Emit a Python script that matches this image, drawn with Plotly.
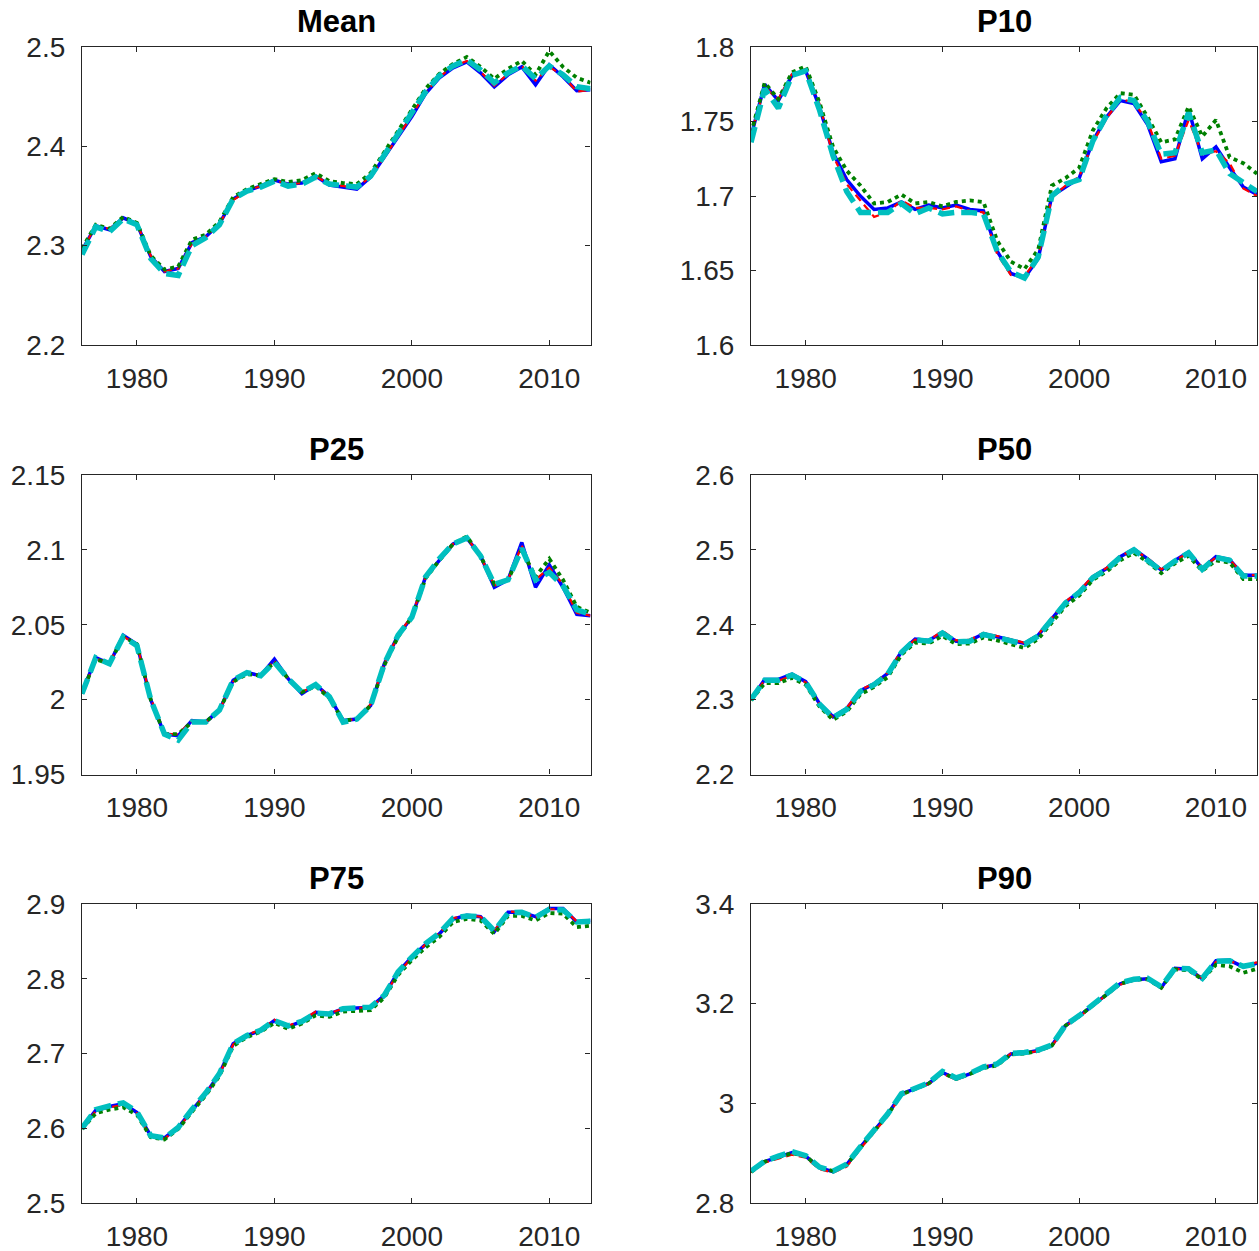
import plotly.graph_objects as go

years = list(range(1976, 2014))

# ---------------- data ----------------
mean_blue = [2.295, 2.320, 2.316, 2.328, 2.322, 2.289, 2.274, 2.277, 2.303, 2.309, 2.322, 2.347, 2.355, 2.360, 2.366, 2.362, 2.363, 2.370, 2.361, 2.359, 2.357, 2.369, 2.389, 2.410, 2.430, 2.453, 2.469, 2.479, 2.485, 2.474, 2.460, 2.472, 2.480, 2.462, 2.482, 2.470, 2.456, 2.457]
mean_red = [2.295, 2.320, 2.317, 2.328, 2.322, 2.290, 2.274, 2.277, 2.302, 2.309, 2.322, 2.346, 2.355, 2.360, 2.366, 2.362, 2.363, 2.370, 2.362, 2.360, 2.358, 2.370, 2.389, 2.410, 2.431, 2.454, 2.470, 2.480, 2.486, 2.475, 2.461, 2.473, 2.481, 2.466, 2.480, 2.471, 2.455, 2.457]
mean_green = [2.297, 2.321, 2.317, 2.329, 2.323, 2.290, 2.276, 2.279, 2.306, 2.311, 2.324, 2.349, 2.357, 2.362, 2.367, 2.364, 2.366, 2.373, 2.365, 2.363, 2.362, 2.373, 2.394, 2.416, 2.436, 2.458, 2.473, 2.483, 2.490, 2.480, 2.468, 2.478, 2.486, 2.472, 2.496, 2.480, 2.469, 2.464]
mean_cyan = [2.291, 2.319, 2.314, 2.327, 2.321, 2.287, 2.272, 2.270, 2.300, 2.308, 2.321, 2.347, 2.355, 2.359, 2.365, 2.360, 2.362, 2.369, 2.362, 2.360, 2.359, 2.370, 2.391, 2.412, 2.432, 2.455, 2.471, 2.481, 2.487, 2.477, 2.464, 2.474, 2.481, 2.468, 2.481, 2.472, 2.460, 2.458]

p10_blue = [1.740, 1.775, 1.764, 1.781, 1.784, 1.760, 1.729, 1.711, 1.700, 1.691, 1.692, 1.696, 1.691, 1.694, 1.692, 1.694, 1.691, 1.690, 1.663, 1.648, 1.645, 1.658, 1.700, 1.706, 1.712, 1.737, 1.753, 1.764, 1.762, 1.748, 1.723, 1.725, 1.758, 1.725, 1.733, 1.719, 1.706, 1.701]
p10_red = [1.741, 1.773, 1.765, 1.782, 1.785, 1.762, 1.727, 1.708, 1.697, 1.686, 1.689, 1.697, 1.692, 1.692, 1.691, 1.693, 1.690, 1.689, 1.661, 1.647, 1.646, 1.659, 1.699, 1.707, 1.713, 1.736, 1.752, 1.765, 1.763, 1.750, 1.725, 1.727, 1.751, 1.728, 1.730, 1.722, 1.705, 1.700]
p10_green = [1.742, 1.776, 1.765, 1.783, 1.787, 1.763, 1.733, 1.717, 1.707, 1.695, 1.696, 1.701, 1.695, 1.696, 1.693, 1.696, 1.697, 1.696, 1.670, 1.656, 1.651, 1.664, 1.707, 1.712, 1.719, 1.744, 1.759, 1.769, 1.768, 1.753, 1.736, 1.738, 1.760, 1.740, 1.751, 1.726, 1.722, 1.715]
p10_cyan = [1.736, 1.772, 1.759, 1.781, 1.784, 1.758, 1.727, 1.703, 1.689, 1.689, 1.689, 1.695, 1.688, 1.692, 1.688, 1.689, 1.689, 1.688, 1.663, 1.649, 1.645, 1.659, 1.700, 1.708, 1.711, 1.737, 1.754, 1.766, 1.764, 1.750, 1.728, 1.729, 1.756, 1.729, 1.731, 1.715, 1.709, 1.703]

p25_blue = [2.004, 2.028, 2.024, 2.043, 2.037, 2.000, 1.977, 1.976, 1.986, 1.985, 1.993, 2.013, 2.018, 2.016, 2.027, 2.014, 2.004, 2.010, 2.002, 1.986, 1.987, 1.996, 2.024, 2.043, 2.055, 2.082, 2.093, 2.104, 2.108, 2.096, 2.075, 2.080, 2.105, 2.075, 2.090, 2.075, 2.057, 2.056]
p25_red = [2.004, 2.027, 2.025, 2.042, 2.037, 2.001, 1.977, 1.977, 1.986, 1.985, 1.993, 2.012, 2.018, 2.016, 2.026, 2.014, 2.005, 2.010, 2.002, 1.986, 1.987, 1.997, 2.024, 2.043, 2.056, 2.082, 2.093, 2.104, 2.108, 2.096, 2.076, 2.080, 2.103, 2.080, 2.088, 2.077, 2.058, 2.056]
p25_green = [2.004, 2.027, 2.024, 2.042, 2.037, 2.000, 1.977, 1.977, 1.985, 1.985, 1.993, 2.012, 2.017, 2.016, 2.025, 2.014, 2.005, 2.009, 2.001, 1.986, 1.987, 1.996, 2.023, 2.042, 2.055, 2.081, 2.093, 2.104, 2.109, 2.096, 2.077, 2.080, 2.100, 2.082, 2.094, 2.080, 2.062, 2.058]
p25_cyan = [2.004, 2.028, 2.024, 2.042, 2.036, 2.000, 1.977, 1.973, 1.985, 1.985, 1.993, 2.013, 2.018, 2.016, 2.025, 2.014, 2.005, 2.010, 2.002, 1.985, 1.987, 1.996, 2.024, 2.043, 2.055, 2.082, 2.094, 2.104, 2.108, 2.096, 2.077, 2.080, 2.101, 2.080, 2.085, 2.076, 2.060, 2.057]

p50_blue = [2.300, 2.327, 2.327, 2.334, 2.324, 2.295, 2.277, 2.288, 2.312, 2.321, 2.335, 2.364, 2.381, 2.379, 2.390, 2.378, 2.379, 2.388, 2.384, 2.379, 2.375, 2.386, 2.408, 2.430, 2.444, 2.464, 2.475, 2.491, 2.501, 2.488, 2.473, 2.486, 2.497, 2.475, 2.491, 2.487, 2.466, 2.466]
p50_red = [2.300, 2.326, 2.325, 2.332, 2.323, 2.294, 2.276, 2.289, 2.313, 2.322, 2.336, 2.365, 2.380, 2.379, 2.392, 2.379, 2.380, 2.389, 2.385, 2.381, 2.376, 2.387, 2.409, 2.431, 2.445, 2.465, 2.476, 2.492, 2.500, 2.489, 2.474, 2.486, 2.496, 2.476, 2.490, 2.487, 2.467, 2.466]
p50_green = [2.299, 2.322, 2.322, 2.329, 2.320, 2.291, 2.273, 2.284, 2.307, 2.317, 2.330, 2.360, 2.376, 2.375, 2.385, 2.374, 2.375, 2.383, 2.379, 2.374, 2.369, 2.381, 2.403, 2.425, 2.439, 2.460, 2.471, 2.486, 2.496, 2.484, 2.469, 2.482, 2.492, 2.472, 2.486, 2.483, 2.461, 2.461]
p50_cyan = [2.300, 2.326, 2.326, 2.333, 2.323, 2.294, 2.276, 2.287, 2.311, 2.320, 2.334, 2.363, 2.380, 2.378, 2.389, 2.377, 2.378, 2.387, 2.383, 2.378, 2.374, 2.385, 2.407, 2.429, 2.443, 2.463, 2.474, 2.490, 2.500, 2.487, 2.472, 2.485, 2.496, 2.474, 2.490, 2.486, 2.465, 2.465]

p75_blue = [2.600, 2.624, 2.629, 2.633, 2.621, 2.590, 2.587, 2.601, 2.624, 2.646, 2.673, 2.713, 2.724, 2.731, 2.744, 2.736, 2.743, 2.755, 2.753, 2.760, 2.761, 2.762, 2.778, 2.809, 2.829, 2.846, 2.860, 2.880, 2.885, 2.883, 2.863, 2.889, 2.889, 2.883, 2.894, 2.894, 2.876, 2.878]
p75_red = [2.600, 2.623, 2.628, 2.631, 2.620, 2.589, 2.586, 2.600, 2.623, 2.646, 2.672, 2.712, 2.725, 2.732, 2.745, 2.737, 2.744, 2.756, 2.754, 2.760, 2.761, 2.762, 2.777, 2.808, 2.828, 2.846, 2.861, 2.881, 2.885, 2.883, 2.864, 2.890, 2.889, 2.882, 2.893, 2.893, 2.877, 2.878]
p75_green = [2.599, 2.620, 2.625, 2.628, 2.618, 2.588, 2.585, 2.599, 2.622, 2.644, 2.670, 2.710, 2.722, 2.729, 2.741, 2.733, 2.740, 2.751, 2.749, 2.756, 2.757, 2.758, 2.775, 2.805, 2.825, 2.842, 2.856, 2.876, 2.880, 2.878, 2.860, 2.884, 2.884, 2.878, 2.888, 2.887, 2.869, 2.871]
p75_cyan = [2.600, 2.625, 2.630, 2.634, 2.622, 2.590, 2.587, 2.601, 2.625, 2.647, 2.673, 2.713, 2.724, 2.731, 2.744, 2.737, 2.743, 2.754, 2.753, 2.760, 2.761, 2.762, 2.778, 2.809, 2.829, 2.847, 2.861, 2.881, 2.884, 2.883, 2.864, 2.888, 2.889, 2.882, 2.893, 2.892, 2.876, 2.877]

p90_blue = [2.863, 2.883, 2.892, 2.901, 2.894, 2.871, 2.863, 2.877, 2.912, 2.945, 2.978, 3.019, 3.029, 3.040, 3.062, 3.049, 3.059, 3.072, 3.078, 3.099, 3.101, 3.106, 3.116, 3.156, 3.175, 3.197, 3.220, 3.240, 3.248, 3.250, 3.232, 3.271, 3.269, 3.250, 3.286, 3.287, 3.274, 3.281]
p90_red = [2.862, 2.881, 2.889, 2.897, 2.891, 2.868, 2.861, 2.873, 2.909, 2.942, 2.975, 3.017, 3.028, 3.039, 3.060, 3.047, 3.058, 3.074, 3.079, 3.100, 3.100, 3.105, 3.114, 3.155, 3.173, 3.195, 3.218, 3.238, 3.247, 3.249, 3.231, 3.270, 3.268, 3.251, 3.284, 3.285, 3.277, 3.283]
p90_green = [2.862, 2.883, 2.892, 2.900, 2.894, 2.871, 2.864, 2.877, 2.911, 2.944, 2.977, 3.018, 3.029, 3.040, 3.061, 3.049, 3.059, 3.071, 3.076, 3.098, 3.100, 3.105, 3.116, 3.156, 3.175, 3.197, 3.220, 3.240, 3.248, 3.249, 3.232, 3.269, 3.267, 3.249, 3.278, 3.275, 3.262, 3.270]
p90_cyan = [2.864, 2.884, 2.894, 2.903, 2.895, 2.872, 2.864, 2.878, 2.913, 2.946, 2.979, 3.019, 3.030, 3.041, 3.064, 3.051, 3.060, 3.073, 3.079, 3.100, 3.102, 3.107, 3.117, 3.157, 3.176, 3.198, 3.221, 3.242, 3.249, 3.251, 3.234, 3.271, 3.270, 3.251, 3.285, 3.286, 3.275, 3.280]

panel_titles = ["Mean", "P10", "P25", "P50", "P75", "P90"]
panel_series = [
    (mean_blue, mean_red, mean_green, mean_cyan),
    (p10_blue, p10_red, p10_green, p10_cyan),
    (p25_blue, p25_red, p25_green, p25_cyan),
    (p50_blue, p50_red, p50_green, p50_cyan),
    (p75_blue, p75_red, p75_green, p75_cyan),
    (p90_blue, p90_red, p90_green, p90_cyan),
]
y_ranges = [[2.2, 2.5], [1.6, 1.8], [1.95, 2.15], [2.2, 2.6], [2.5, 2.9], [2.8, 3.4]]
y_ticks = [
    [2.2, 2.3, 2.4, 2.5],
    [1.6, 1.65, 1.7, 1.75, 1.8],
    [1.95, 2.0, 2.05, 2.1, 2.15],
    [2.2, 2.3, 2.4, 2.5, 2.6],
    [2.5, 2.6, 2.7, 2.8, 2.9],
    [2.8, 3.0, 3.2, 3.4],
]
y_ticktext = [
    ["2.2", "2.3", "2.4", "2.5"],
    ["1.6", "1.65", "1.7", "1.75", "1.8"],
    ["1.95", "2", "2.05", "2.1", "2.15"],
    ["2.2", "2.3", "2.4", "2.5", "2.6"],
    ["2.5", "2.6", "2.7", "2.8", "2.9"],
    ["2.8", "3", "3.2", "3.4"],
]
x_ticks = [1980, 1990, 2000, 2010]
x_ticktext = ["1980", "1990", "2000", "2010"]

# ---------------- layout geometry ----------------
W, H = 1259, 1251
col_px = [(82, 590.5), (751, 1257)]
row_px = [(47, 345), (475, 774.5), (904, 1203)]

styles = [
    dict(color="#0000FF", width=3.5, dash="solid"),
    dict(color="#FF0000", width=2.2, dash="8px,5px"),
    dict(color="#008000", width=3.8, dash="4px,4px"),
    dict(color="#00BFBF", width=5.5, dash="16px,7px"),
]

fig = go.Figure()
axis_color = "#262626"
font_family = "Liberation Sans, Arial, Helvetica, sans-serif"

annotations = []
for i in range(6):
    r, c = divmod(i, 2)
    n = i + 1
    xa = "x" if n == 1 else f"x{n}"
    ya = "y" if n == 1 else f"y{n}"
    for data, st in zip(panel_series[i], styles):
        fig.add_trace(go.Scatter(x=years, y=data, mode="lines", xaxis=xa, yaxis=ya,
                                 line=st, showlegend=False, hoverinfo="skip"))
    x0, x1 = col_px[c]
    top, bot = row_px[r]
    xdom = [x0 / W, x1 / W]
    ydom = [1 - bot / H, 1 - top / H]
    common = dict(showline=True, linecolor=axis_color, linewidth=1.2, mirror="ticks",
                  ticks="inside", ticklen=5, tickwidth=1.2, tickcolor=axis_color,
                  showgrid=False, zeroline=False, automargin=False,
                  tickfont=dict(family=font_family, size=28, color=axis_color))
    fig.layout[f"xaxis{n if n > 1 else ''}"] = dict(
        domain=xdom, anchor=ya, range=[1976, 2013], tickvals=x_ticks, ticktext=x_ticktext,
        ticklabelstandoff=8, **common)
    fig.layout[f"yaxis{n if n > 1 else ''}"] = dict(
        domain=ydom, anchor=xa, range=y_ranges[i], tickvals=y_ticks[i], ticktext=y_ticktext[i],
        ticklabelstandoff=10, **common)
    annotations.append(dict(text=f"<b>{panel_titles[i]}</b>", xref="paper", yref="paper",
                            x=(x0 + x1) / 2 / W, y=1 - (top - 26) / H,
                            xanchor="center", yanchor="middle", showarrow=False,
                            font=dict(family=font_family, size=31, color="#000000")))

fig.update_layout(template="none", width=W, height=H, margin=dict(l=0, r=0, t=0, b=0, pad=0),
                  paper_bgcolor="white", plot_bgcolor="white",
                  annotations=annotations, showlegend=False)

fig.write_html("out.html", config={"displayModeBar": False},
               post_script="document.body.style.margin='0px';document.body.style.overflow='hidden';")
